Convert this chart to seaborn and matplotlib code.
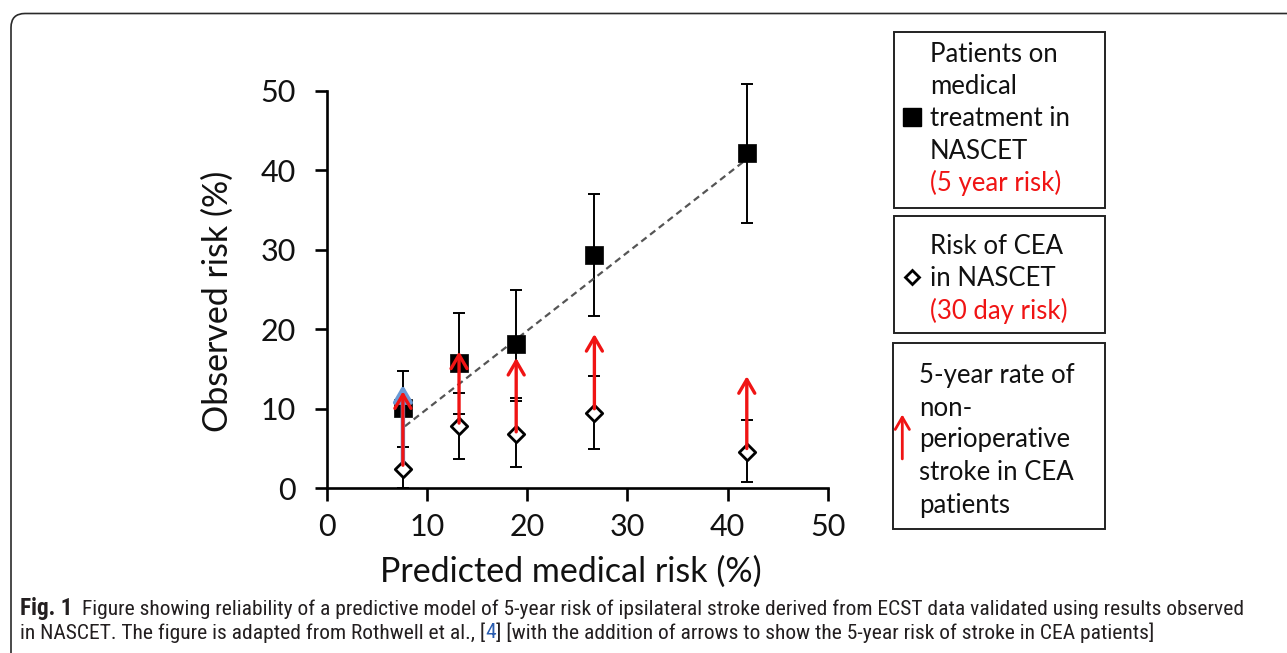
import matplotlib
matplotlib.use("Agg")
import matplotlib.pyplot as plt
import seaborn as sns
import numpy as np
from matplotlib import font_manager
from matplotlib.patches import Rectangle, FancyBboxPatch, FancyArrowPatch
from matplotlib.lines import Line2D
from matplotlib.transforms import IdentityTransform

# ---------------- data ----------------
predicted = [7.6, 13.2, 18.9, 26.7, 41.9]
observed_medical = [10.1, 15.8, 18.2, 29.3, 42.2]
medical_lo = [5.2, 9.4, 11.4, 21.7, 33.4]
medical_hi = [14.8, 22.0, 25.0, 37.0, 50.9]
cea_risk = [2.4, 7.8, 6.8, 9.5, 4.6]
cea_lo = [0.0, 3.7, 2.7, 5.0, 0.8]
cea_hi = [5.2, 12.0, 11.0, 14.1, 8.6]
arrow_start = [2.9, 8.2, 7.1, 10.0, 5.0]
arrow_end = [12.2, 17.2, 16.4, 19.4, 14.1]
blue_arrow_x = [7.6]
blue_arrow_start = [3.2]
blue_arrow_end = [13.0]
calib_x = [7.8, 41.7]
calib_y = [7.8, 41.2]
ticks = [0, 10, 20, 30, 40, 50]

xlabel = "Predicted medical risk (%)"
ylabel = "Observed risk (%)"
legend1 = ["Patients on", "medical", "treatment in", "NASCET"]
legend1_red = "(5 year risk)"
legend2 = ["Risk of CEA", "in NASCET"]
legend2_red = "(30 day risk)"
legend3 = ["5-year rate of", "non-", "perioperative", "stroke in CEA", "patients"]
cap_bold = "Fig. 1"
cap_line1 = "Figure showing reliability of a predictive model of 5-year risk of ipsilateral stroke derived from ECST data validated using results observed"
cap_line2a = "in NASCET. The figure is adapted from Rothwell et al., ["
cap_ref = "4"
cap_line2b = "] [with the addition of arrows to show the 5-year risk of stroke in CEA patients]"

# ---------------- style ----------------
sns.set_theme(style="ticks")
plt.rcParams["font.family"] = ["Lato", "DejaVu Sans"]

available = {f.name for f in font_manager.fontManager.ttflist}
cap_family = "DejaVu Sans"
for cand in ["Liberation Sans Narrow", "Roboto Condensed", "Open Sans Condensed", "Noto Sans", "Liberation Sans"]:
    if cand in available:
        cap_family = cand
        break

RED = "#f01414"
TXT = "#111111"
W, H = 1287, 653
fig = plt.figure(figsize=(W / 100, H / 100), dpi=100)
fig.patch.set_facecolor("white")

def fx(px):
    return px / W

def fy(py):
    return (H - py) / H

ax = fig.add_axes([fx(326.7), fy(488.3), 501.3 / W, 397.6 / H])
ax.set_facecolor("white")

# error bars
med = np.array(observed_medical)
eb1 = ax.errorbar(predicted, observed_medical,
                  yerr=[med - np.array(medical_lo), np.array(medical_hi) - med],
                  fmt="none", ecolor="black", elinewidth=1.4, capsize=4.5, capthick=1.4, zorder=2)
cea = np.array(cea_risk)
eb2 = ax.errorbar(predicted, cea_risk,
                  yerr=[cea - np.array(cea_lo), np.array(cea_hi) - cea],
                  fmt="none", ecolor="black", elinewidth=1.4, capsize=4.5, capthick=1.4, zorder=2)
for eb in (eb1, eb2):
    for art in eb.lines[1] + eb.lines[2]:
        art.set_clip_on(False)

# calibration dashed line
sns.lineplot(x=calib_x, y=calib_y, ax=ax, color="#555555", linewidth=1.6,
             linestyle=(0, (3, 2)), zorder=2.5)

# markers
sns.scatterplot(x=predicted, y=observed_medical, ax=ax, marker="s", s=170,
                color="black", edgecolor="black", linewidth=0.5, zorder=3)
sns.scatterplot(x=predicted, y=cea_risk, ax=ax, marker="D", s=70,
                facecolor="white", edgecolor="black", linewidth=2.0, zorder=3.2)

# arrows
for xb, y0, y1 in zip(blue_arrow_x, blue_arrow_start, blue_arrow_end):
    ax.annotate("", xy=(xb, y1), xytext=(xb, y0),
                arrowprops=dict(arrowstyle="-|>, head_width=0.35, head_length=0.6",
                                color="#6a9ad6", lw=3.2, shrinkA=0, shrinkB=0,
                                mutation_scale=16), zorder=3.5)
for xa, y0, y1 in zip(predicted, arrow_start, arrow_end):
    ax.annotate("", xy=(xa, y1), xytext=(xa, y0),
                arrowprops=dict(arrowstyle="->, head_width=0.32, head_length=0.55",
                                color=RED, lw=2.4, shrinkA=0, shrinkB=0,
                                mutation_scale=18), zorder=4)

ax.set_xlim(0, 50)
ax.set_ylim(0, 50)
ax.set_xticks(ticks)
ax.set_yticks(ticks)
ax.set_xticklabels([str(t) for t in ticks])
ax.set_yticklabels([str(t) for t in ticks])
sns.despine(ax=ax)
for s in ["left", "bottom"]:
    ax.spines[s].set_linewidth(1.9)
    ax.spines[s].set_color("black")
ax.tick_params(axis="both", which="major", direction="out", length=9, width=1.9,
               colors="black", labelsize=22)
ax.tick_params(axis="y", pad=13)
ax.tick_params(axis="x", pad=9)
for lab in ax.get_xticklabels() + ax.get_yticklabels():
    lab.set_color(TXT)

ax.set_xlabel(xlabel, fontsize=24.5, color=TXT)
ax.set_ylabel(ylabel, fontsize=24.5, color=TXT)
ax.xaxis.label.set_va("center")
ax.yaxis.label.set_va("center")
ax.xaxis.set_label_coords((571 - 326.7) / 501.3, (488.3 - 572) / 397.6)
ax.yaxis.set_label_coords((218 - 326.7) / 501.3, (488.3 - 301) / 397.6)

# ---------------- legend boxes (figure coords) ----------------
def box(x0, y0, x1, y1):
    fig.add_artist(Rectangle((fx(x0), fy(y1)), fx(x1) - fx(x0), fy(y0) - fy(y1),
                             transform=fig.transFigure, fill=False,
                             edgecolor="#222222", linewidth=1.4))

LFS = 18.5
box(894, 31.7, 1105, 207.7)
for txt, yy in zip(legend1, [55, 86.7, 119, 151]):
    fig.text(fx(930), fy(yy), txt, fontsize=LFS, va="center", ha="left", color=TXT)
fig.text(fx(930), fy(183.3), legend1_red, fontsize=LFS, va="center", ha="left", color=RED)
fig.add_artist(Line2D([fx(911.7)], [fy(117.3)], marker="s", markersize=12.5, color="black",
                      transform=fig.transFigure, linestyle="none"))

box(894, 215.7, 1105, 333.3)
for txt, yy in zip(legend2, [246.7, 278.3]):
    fig.text(fx(930), fy(yy), txt, fontsize=LFS, va="center", ha="left", color=TXT)
fig.text(fx(930), fy(311), legend2_red, fontsize=LFS, va="center", ha="left", color=RED)
fig.add_artist(Line2D([fx(912.3)], [fy(276.7)], marker="D", markersize=6.8,
                      markerfacecolor="white", markeredgecolor="black", markeredgewidth=2.0,
                      transform=fig.transFigure, linestyle="none"))

box(892.7, 343.3, 1105, 529.3)
for txt, yy in zip(legend3, [375, 408.3, 440, 472.7, 505]):
    fig.text(fx(919.3), fy(yy), txt, fontsize=LFS, va="center", ha="left", color=TXT)
fig.add_artist(FancyArrowPatch((fx(902.3), fy(461.7)), (fx(902.3), fy(411.7)),
                               transform=fig.transFigure,
                               arrowstyle="->, head_width=0.32, head_length=0.55",
                               mutation_scale=16, color=RED, lw=2.0))

# ---------------- outer rounded frame ----------------
frame = FancyBboxPatch((11, -40), 1400, (H - 13.5) + 40,
                       boxstyle="round,pad=0,rounding_size=14",
                       transform=IdentityTransform(), fill=False,
                       edgecolor="#2a2a2a", linewidth=1.2)
fig.add_artist(frame)

# ---------------- caption ----------------
fig.canvas.draw()
renderer = fig.canvas.get_renderer()
CFS = 13.5
CCOL = "#231f20"
tb = fig.text(fx(20), fy(609), cap_bold, fontsize=CFS, fontweight="bold",
              family=[cap_family, "DejaVu Sans"], va="center", ha="left", color=CCOL)
t1 = fig.text(fx(20), fy(609), cap_line1, fontsize=CFS,
              family=[cap_family, "DejaVu Sans"], va="center", ha="left", color=CCOL)

def place_after(prev, t, gap_px):
    bb = prev.get_window_extent(renderer)
    t.set_x((bb.x1 + gap_px) / W)

# fit first line to the reference width (ends at x ~ 1240)
for _ in range(6):
    place_after(tb, t1, 10)
    fig.canvas.draw()
    end = t1.get_window_extent(renderer).x1
    scale = (1240 - 20) / (end - 20)
    CFS *= scale
    tb.set_fontsize(CFS)
    t1.set_fontsize(CFS)
tb.set_fontsize(CFS * 1.08)
fig.canvas.draw()
place_after(tb, t1, 10)

t2a = fig.text(fx(20), fy(633), cap_line2a, fontsize=CFS,
               family=[cap_family, "DejaVu Sans"], va="center", ha="left", color=CCOL)
t2r = fig.text(0, fy(633), cap_ref, fontsize=CFS,
               family=[cap_family, "DejaVu Sans"], va="center", ha="left", color="#2a5db0")
t2b = fig.text(0, fy(633), cap_line2b, fontsize=CFS,
               family=[cap_family, "DejaVu Sans"], va="center", ha="left", color=CCOL)
fig.canvas.draw()
place_after(t2a, t2r, 0)
fig.canvas.draw()
place_after(t2r, t2b, 0)

fig.savefig("out.png", dpi=100, facecolor="white")
